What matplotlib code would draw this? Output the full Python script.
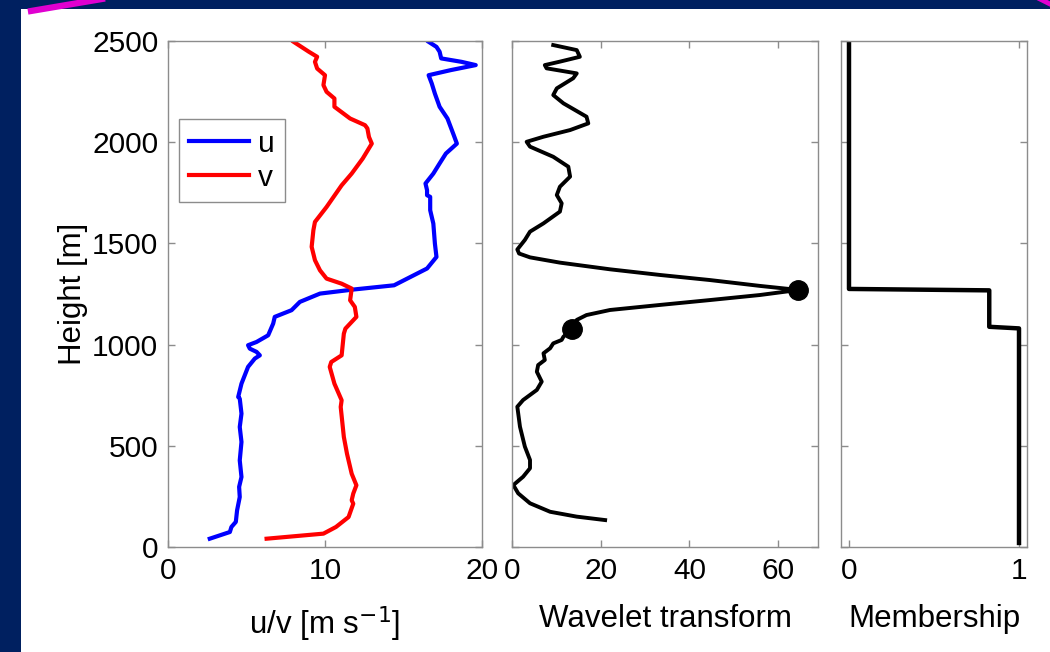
import matplotlib
matplotlib.use("Agg")
import matplotlib.pyplot as plt
from matplotlib.patches import Rectangle
from matplotlib.lines import Line2D

plt.rcParams['font.family'] = ['Liberation Sans', 'DejaVu Sans']
plt.rcParams['font.size'] = 21.5
plt.rcParams['axes.labelsize'] = 22.5

# wind profile (u, v) against height
u_height = [41, 74, 99, 124, 181, 247, 297, 346, 428, 519, 593, 659, 733, 741, 807, 890, 931,
            947, 964, 980, 997, 1013, 1046, 1104, 1137, 1170, 1211, 1252, 1272, 1293, 1376,
            1433, 1499, 1598, 1664, 1730, 1738, 1763, 1796, 1845, 1895, 1944, 1993, 2035,
            2117, 2175, 2240, 2290, 2331, 2356, 2381, 2397, 2414, 2447, 2471, 2496]
u_wind = [2.66, 3.94, 4.04, 4.32, 4.40, 4.57, 4.53, 4.68, 4.57, 4.68, 4.57, 4.68, 4.57, 4.47,
          4.68, 5.1, 5.53, 5.85, 5.64, 5.21, 5.1, 5.64, 6.38, 6.7, 6.8, 7.87, 8.4, 9.68, 11.8,
          14.4, 16.5, 17.1, 17.0, 16.9, 16.7, 16.7, 16.5, 16.5, 16.4, 16.9, 17.3, 17.7, 18.4,
          18.2, 17.8, 17.3, 17.0, 16.8, 16.6, 18.0, 19.6, 18.7, 17.4, 17.3, 17.1, 16.6]

v_height = [41, 66, 99, 148, 214, 231, 264, 305, 362, 461, 544, 692, 725, 807, 890, 914, 947,
            1054, 1079, 1137, 1186, 1219, 1277, 1301, 1326, 1367, 1417, 1483, 1565, 1606, 1680,
            1787, 1845, 1919, 1993, 2026, 2068, 2084, 2117, 2175, 2216, 2249, 2282, 2331, 2364,
            2397, 2422, 2447, 2496]
v_wind = [6.28, 9.9, 10.7, 11.5, 11.8, 11.7, 11.8, 12.0, 11.7, 11.4, 11.2, 11.0, 11.06, 10.6,
          10.3, 10.4, 11.06, 11.2, 11.3, 12.0, 11.9, 11.6, 11.7, 11.06, 10.1, 9.68, 9.36, 9.15,
          9.26, 9.36, 10.1, 11.06, 11.7, 12.4, 12.98, 12.8, 12.7, 12.55, 11.6, 10.6, 10.6, 10.1,
          9.9, 10.0, 9.5, 9.36, 9.5, 8.97, 8.0]

# wavelet transform of the profile
wt_height = [133, 150, 174, 216, 265, 306, 347, 389, 430, 496, 594, 693, 726, 776, 817, 866,
             899, 924, 957, 982, 1006, 1023, 1039, 1076, 1122, 1146, 1171, 1196, 1220, 1245,
             1270, 1290, 1319, 1344, 1372, 1405, 1431, 1450, 1470, 1517, 1558, 1599, 1657, 1698,
             1739, 1780, 1830, 1879, 1928, 1978, 2002, 2027, 2060, 2093, 2126, 2192, 2233, 2266,
             2316, 2340, 2365, 2381, 2398, 2422, 2455, 2480]
wt_value = [21.0, 14.6, 8.6, 4.06, 1.4, 0.3, 2.5, 4.06, 4.06, 2.9, 1.8, 1.2, 2.5, 5.6, 6.7,
            5.6, 5.9, 7.4, 7.1, 8.6, 9.3, 11.2, 11.6, 13.5, 14.6, 16.8, 22.1, 33.4, 44.6, 55.9,
            64.6, 55.9, 44.6, 33.4, 22.1, 10.8, 4.06, 1.6, 1.2, 2.9, 4.06, 7.1, 10.8, 11.2,
            10.1, 10.8, 13.1, 12.7, 9.3, 4.06, 3.3, 7.1, 13.1, 17.2, 16.8, 11.6, 9.3, 10.1,
            13.8, 14.6, 7.8, 7.4, 10.8, 15.3, 14.6, 9.3]

# detected layer top and bottom
peak_height = [1270, 1076]
peak_value = [64.6, 13.5]

# membership function
mem_height = [2500, 1275, 1268, 1088, 1080, 20]
mem_value = [0, 0, 0.825, 0.825, 1.0, 1.0]

navy = '#002060'
spine_grey = '#8c8c8c'

fig = plt.figure(figsize=(10.5, 6.52), dpi=100, facecolor=navy)
fig.add_artist(Rectangle((21 / 1050, 0), 1 - 21 / 1050, 1 - 9 / 652,
                         transform=fig.transFigure, facecolor='white', edgecolor='none', zorder=0))
fig.add_artist(Line2D([31 / 1050, 102 / 1050], [1 - 11 / 652, 1 + 1 / 652],
                      transform=fig.transFigure, color='#e000d0', linewidth=4.5))
fig.add_artist(Line2D([1038 / 1050, 1054 / 1050], [1 + 2 / 652, 1 - 6 / 652],
                      transform=fig.transFigure, color='#e000d0', linewidth=3.5))

bottom = 105 / 652
height = 506 / 652
ax1 = fig.add_axes([168 / 1050, bottom, 314 / 1050, height])
ax2 = fig.add_axes([512 / 1050, bottom, 306 / 1050, height])
ax3 = fig.add_axes([841 / 1050, bottom, 186 / 1050, height])

ax1.plot(u_wind, u_height, color='#0000ff', linewidth=3, label='u', solid_joinstyle='round')
ax1.plot(v_wind, v_height, color='#ff0000', linewidth=3, label='v', solid_joinstyle='round')
ax1.set_xlim(0, 20)
ax1.set_xticks([0, 10, 20])
ax1.set_xlabel('u/v [m s$^{-1}$]', labelpad=14)
ax1.set_ylabel('Height [m]', labelpad=3)
leg = ax1.legend(loc='upper left', bbox_to_anchor=(0.035, 0.845), borderaxespad=0,
                 fancybox=False, framealpha=1, edgecolor=spine_grey, fontsize=21.5,
                 handlelength=2.0, handletextpad=0.3, labelspacing=0.2, borderpad=0.35)
leg.get_frame().set_linewidth(1)

ax2.plot(wt_value, wt_height, color='black', linewidth=2.8, solid_joinstyle='round')
ax2.plot(peak_value, peak_height, 'o', color='black', markersize=14)
ax2.set_xlim(0, 69)
ax2.set_xticks([0, 20, 40, 60])
ax2.set_xlabel('Wavelet transform', labelpad=14)

ax3.plot(mem_value, mem_height, color='black', linewidth=3.2)
ax3.set_xlim(-0.047, 1.047)
ax3.set_xticks([0, 1])
ax3.set_xlabel('Membership', labelpad=14)

for ax in (ax1, ax2, ax3):
    ax.set_ylim(0, 2500)
    ax.set_yticks([0, 500, 1000, 1500, 2000, 2500])
    ax.tick_params(direction='in', length=5, width=1, color=spine_grey,
                   top=True, right=True, pad=7)
    for sp in ax.spines.values():
        sp.set_color(spine_grey)
        sp.set_linewidth(1)
for ax in (ax2, ax3):
    ax.set_yticklabels([])

fig.savefig('out.png', dpi=100, facecolor=navy)
